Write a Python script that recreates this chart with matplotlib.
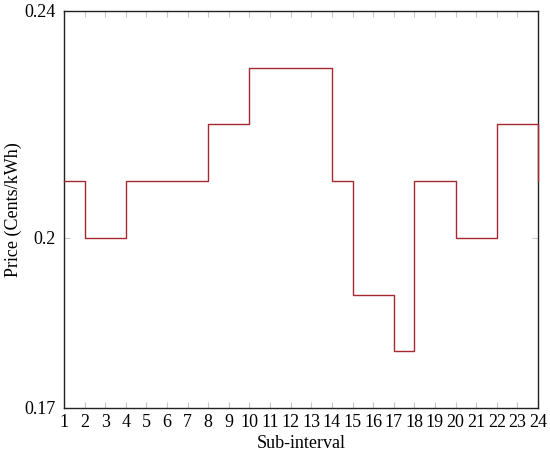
import numpy as np
import matplotlib.pyplot as plt

plt.rcParams['font.family'] = ['Liberation Serif', 'DejaVu Serif']

# hourly price per sub-interval
hours = list(range(1, 25))
price = [0.21, 0.20, 0.20, 0.21, 0.21, 0.21, 0.21, 0.22, 0.22, 0.23, 0.23, 0.23,
         0.23, 0.21, 0.19, 0.19, 0.18, 0.21, 0.21, 0.20, 0.20, 0.22, 0.22, 0.21]
yticks = [0.17, 0.2, 0.24]
yticklabels = ["0.17", "0.2", "0.24"]

fig = plt.figure(figsize=(5.5, 4.53), dpi=100)
ax = fig.add_axes([64/550, 1 - 408/453, (538 - 64)/550, (408 - 11)/453])

ax.step(hours, price, where='post', color='#a82830', lw=1.0, clip_on=False, zorder=3)

ax.set_xlim(1, 24)
ax.set_ylim(0.17, 0.24)
ax.set_xticks(hours)
ax.set_yticks(yticks)
ax.set_yticklabels(yticklabels)
ax.tick_params(direction='in', length=4, color='#c8c8c8', labelsize=13,
               top=True, right=True)
ax.tick_params(axis='x', pad=4)
ax.tick_params(axis='y', pad=6)
for s in ax.spines.values():
    s.set_linewidth(1.0)
    s.set_color('#222222')

ax.set_xlabel("Sub-interval", fontsize=13, labelpad=3)
ax.set_ylabel("Price (Cents/kWh)", fontsize=13, labelpad=2)

fig.savefig("out.png", dpi=100)
